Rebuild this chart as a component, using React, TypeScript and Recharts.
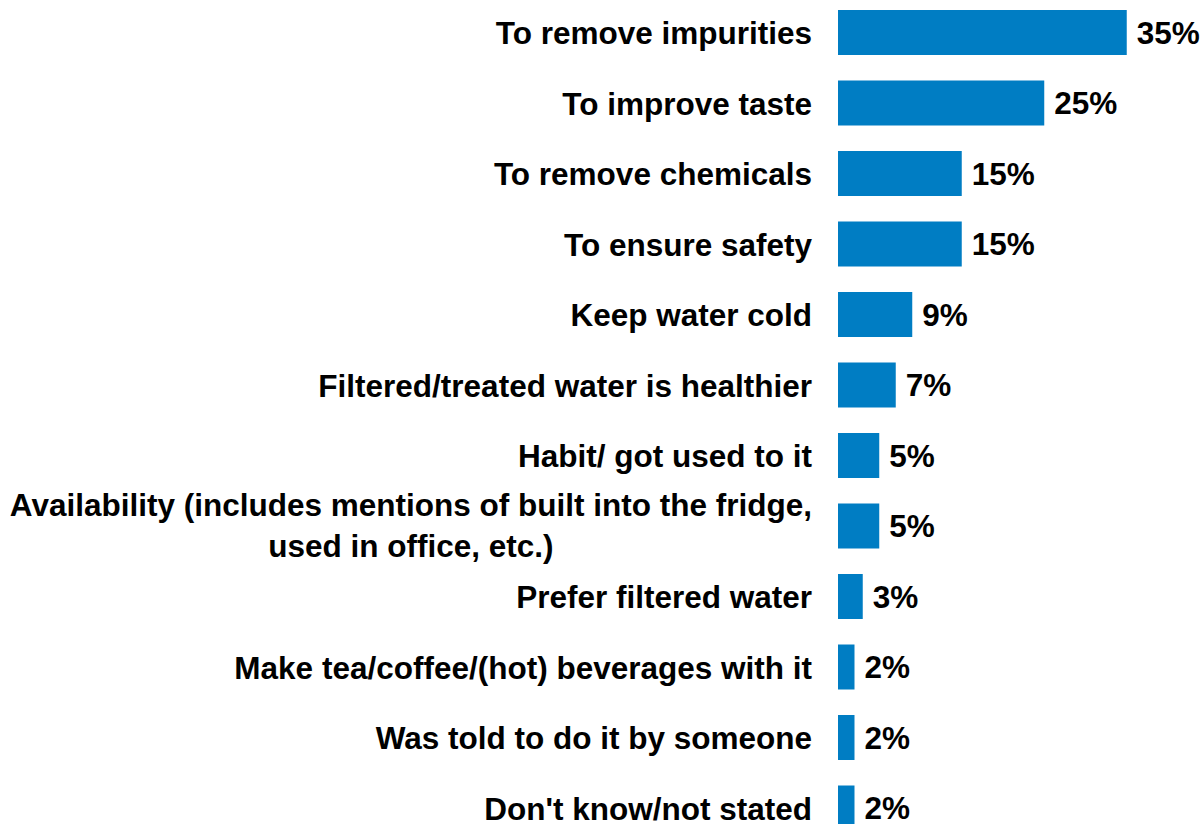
import React from 'react';
import { BarChart, Bar, XAxis, YAxis, LabelList } from 'recharts';

const categories = [
  'To remove impurities',
  'To improve taste',
  'To remove chemicals',
  'To ensure safety',
  'Keep water cold',
  'Filtered/treated water is healthier',
  'Habit/ got used to it',
  'Availability (includes mentions of built into the fridge,\nused in office, etc.)',
  'Prefer filtered water',
  'Make tea/coffee/(hot) beverages with it',
  'Was told to do it by someone',
  "Don't know/not stated",
];
const values = [35, 25, 15, 15, 9, 7, 5, 5, 3, 2, 2, 2];

const data = categories.map((name, i) => ({ name, value: values[i] }));

const FONT = '"Liberation Sans", Arial, sans-serif';
const FONT_SIZE = 31.5;

let ctx: CanvasRenderingContext2D | null = null;
const measure = (s: string) => {
  if (!ctx) ctx = document.createElement('canvas').getContext('2d');
  if (!ctx) return s.length * 15;
  ctx.font = `bold ${FONT_SIZE}px ${FONT}`;
  return ctx.measureText(s).width;
};

// right-aligned labels; the two-line one is centred line by line
const CategoryTick = ({ x, y, payload }: any) => {
  const lines: string[] = String(payload.value).split('\n');
  const lh = 41;
  if (lines.length === 1) {
    return (
      <text x={x} y={y} dy="0.38em" textAnchor="end" fill="#000" fontFamily={FONT} fontSize={FONT_SIZE} fontWeight="bold">
        {lines[0]}
      </text>
    );
  }
  const maxW = Math.max(...lines.map(measure));
  const cx = x - maxW / 2;
  const y0 = y - ((lines.length - 1) * lh) / 2;
  return (
    <text textAnchor="middle" fill="#000" fontFamily={FONT} fontSize={FONT_SIZE} fontWeight="bold">
      {lines.map((l, i) => (
        <tspan key={i} x={cx} y={y0 + i * lh} dy="0.34em">
          {l}
        </tspan>
      ))}
    </text>
  );
};

export default function App() {
  return (
    <div style={{ position: 'fixed', left: 0, top: 0, width: 1204, height: 824, overflow: 'hidden', background: '#fff' }}>
      <div style={{ position: 'absolute', left: 0, top: -3 }}>
        <BarChart
          width={1204}
          height={850}
          data={data}
          layout="vertical"
          margin={{ top: 0, right: 36, bottom: 4, left: 0 }}
          barSize={45}
        >
          <XAxis type="number" domain={[0, 40]} hide />
          <YAxis
            type="category"
            dataKey="name"
            width={838}
            axisLine={false}
            tickLine={false}
            tickSize={0}
            tickMargin={26}
            interval={0}
            tick={<CategoryTick />}
          />
          <Bar dataKey="value" fill="#007DC3" isAnimationActive={false}>
            <LabelList
              dataKey="value"
              position="right"
              offset={10}
              formatter={(v: any) => `${v}%`}
              fill="#000"
              fontFamily={FONT}
              fontSize={FONT_SIZE}
              fontWeight="bold"
            />
          </Bar>
        </BarChart>
      </div>
    </div>
  );
}
